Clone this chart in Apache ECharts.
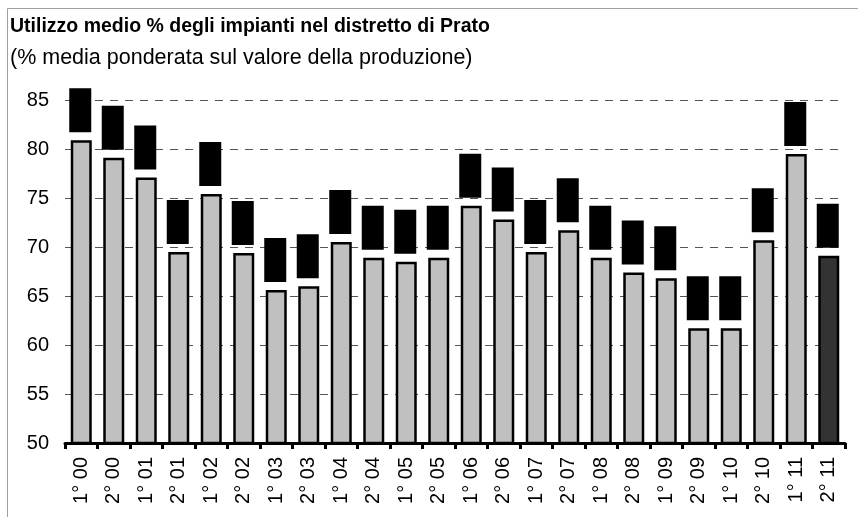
<!DOCTYPE html>
<html>
<head>
<meta charset="utf-8">
<script src="https://cdn.jsdelivr.net/npm/echarts@6/dist/echarts.min.js"></script>
<style>
    html, body { margin: 0; padding: 0; background: #fff; }
    #myChart { width: 858px; height: 517px; }
</style>
</head>
<body>
<div id="myChart"></div>
<script>
var titleText = 'Utilizzo medio % degli impianti nel distretto di Prato';
var subText = '(% media ponderata sul valore della produzione)';
var categories = ['1° 00', '2° 00', '1° 01', '2° 01', '1° 02', '2° 02', '1° 03', '2° 03',
    '1° 04', '2° 04', '1° 05', '2° 05', '1° 06', '2° 06', '1° 07', '2° 07',
    '1° 08', '2° 08', '1° 09', '2° 09', '1° 10', '2° 10', '1° 11', '2° 11'];
var values = [80.9, 79.1, 77.1, 69.5, 75.4, 69.4, 65.6, 66.0,
    70.5, 68.9, 68.5, 68.9, 74.2, 72.8, 69.5, 71.7,
    68.9, 67.4, 66.8, 61.7, 61.7, 70.7, 79.5, 69.1];
var yMin = 50, yMax = 85, yStep = 5;

var font = "'Liberation Sans', Arial, sans-serif";
var myChart = echarts.init(document.getElementById('myChart'));

// ultimo periodo evidenziato in grigio scuro
var barData = [];
for (var i = 0; i < values.length; i++) {
    var item = {value: values[i]};
    if (i == values.length - 1) {
        item.itemStyle = {color: '#333333'};
    }
    barData.push(item);
}

var option = {
    backgroundColor: '#fff',
    animation: false,
    title: [
        {
            text: titleText,
            left: 10,
            top: 17,
            padding: 0,
            textStyle: {fontFamily: font, fontSize: 19.5, fontWeight: 'bold', color: '#000'}
        },
        {
            text: subText,
            left: 10,
            top: 47,
            padding: 0,
            textStyle: {fontFamily: font, fontSize: 21.5, fontWeight: 'normal', color: '#000'}
        }
    ],
    graphic: [
        {
            type: 'rect',
            silent: true,
            shape: {x: 7.5, y: 8.5, width: 900, height: 600},
            style: {fill: 'none', stroke: '#a0a0a0', lineWidth: 1}
        }
    ],
    grid: {
        left: 65,
        right: 13,
        top: 100,
        bottom: 74
    },
    xAxis: {
        type: 'category',
        data: categories,
        boundaryGap: true,
        axisLine: {show: true, lineStyle: {color: '#000', width: 3}},
        axisTick: {show: true, length: 6, lineStyle: {color: '#000', width: 3}},
        axisLabel: {
            rotate: 90,
            margin: 14,
            interval: 0,
            fontFamily: font,
            fontSize: 20,
            color: '#000'
        }
    },
    yAxis: {
        type: 'value',
        min: yMin,
        max: yMax,
        interval: yStep,
        axisLine: {show: false},
        axisTick: {show: false},
        axisLabel: {
            margin: 16,
            fontFamily: font,
            fontSize: 20,
            color: '#000'
        },
        splitLine: {
            show: true,
            lineStyle: {color: '#555', width: 1, type: [8, 7]}
        }
    },
    series: [
        {
            name: 'Utilizzo',
            type: 'bar',
            barWidth: 21,
            data: barData,
            itemStyle: {
                color: '#c0c0c0',
                borderColor: '#000',
                borderWidth: 2.5
            },
            label: {
                show: true,
                position: 'top',
                distance: 8,
                offset: [-1, 0],
                width: 22,
                height: 44,
                align: 'center',
                backgroundColor: '#000',
                color: '#000',
                fontSize: 8,
                fontFamily: font,
                formatter: function (p) {
                    return p.value.toFixed(1);
                }
            }
        }
    ]
};
myChart.setOption(option);
</script>
</body>
</html>
